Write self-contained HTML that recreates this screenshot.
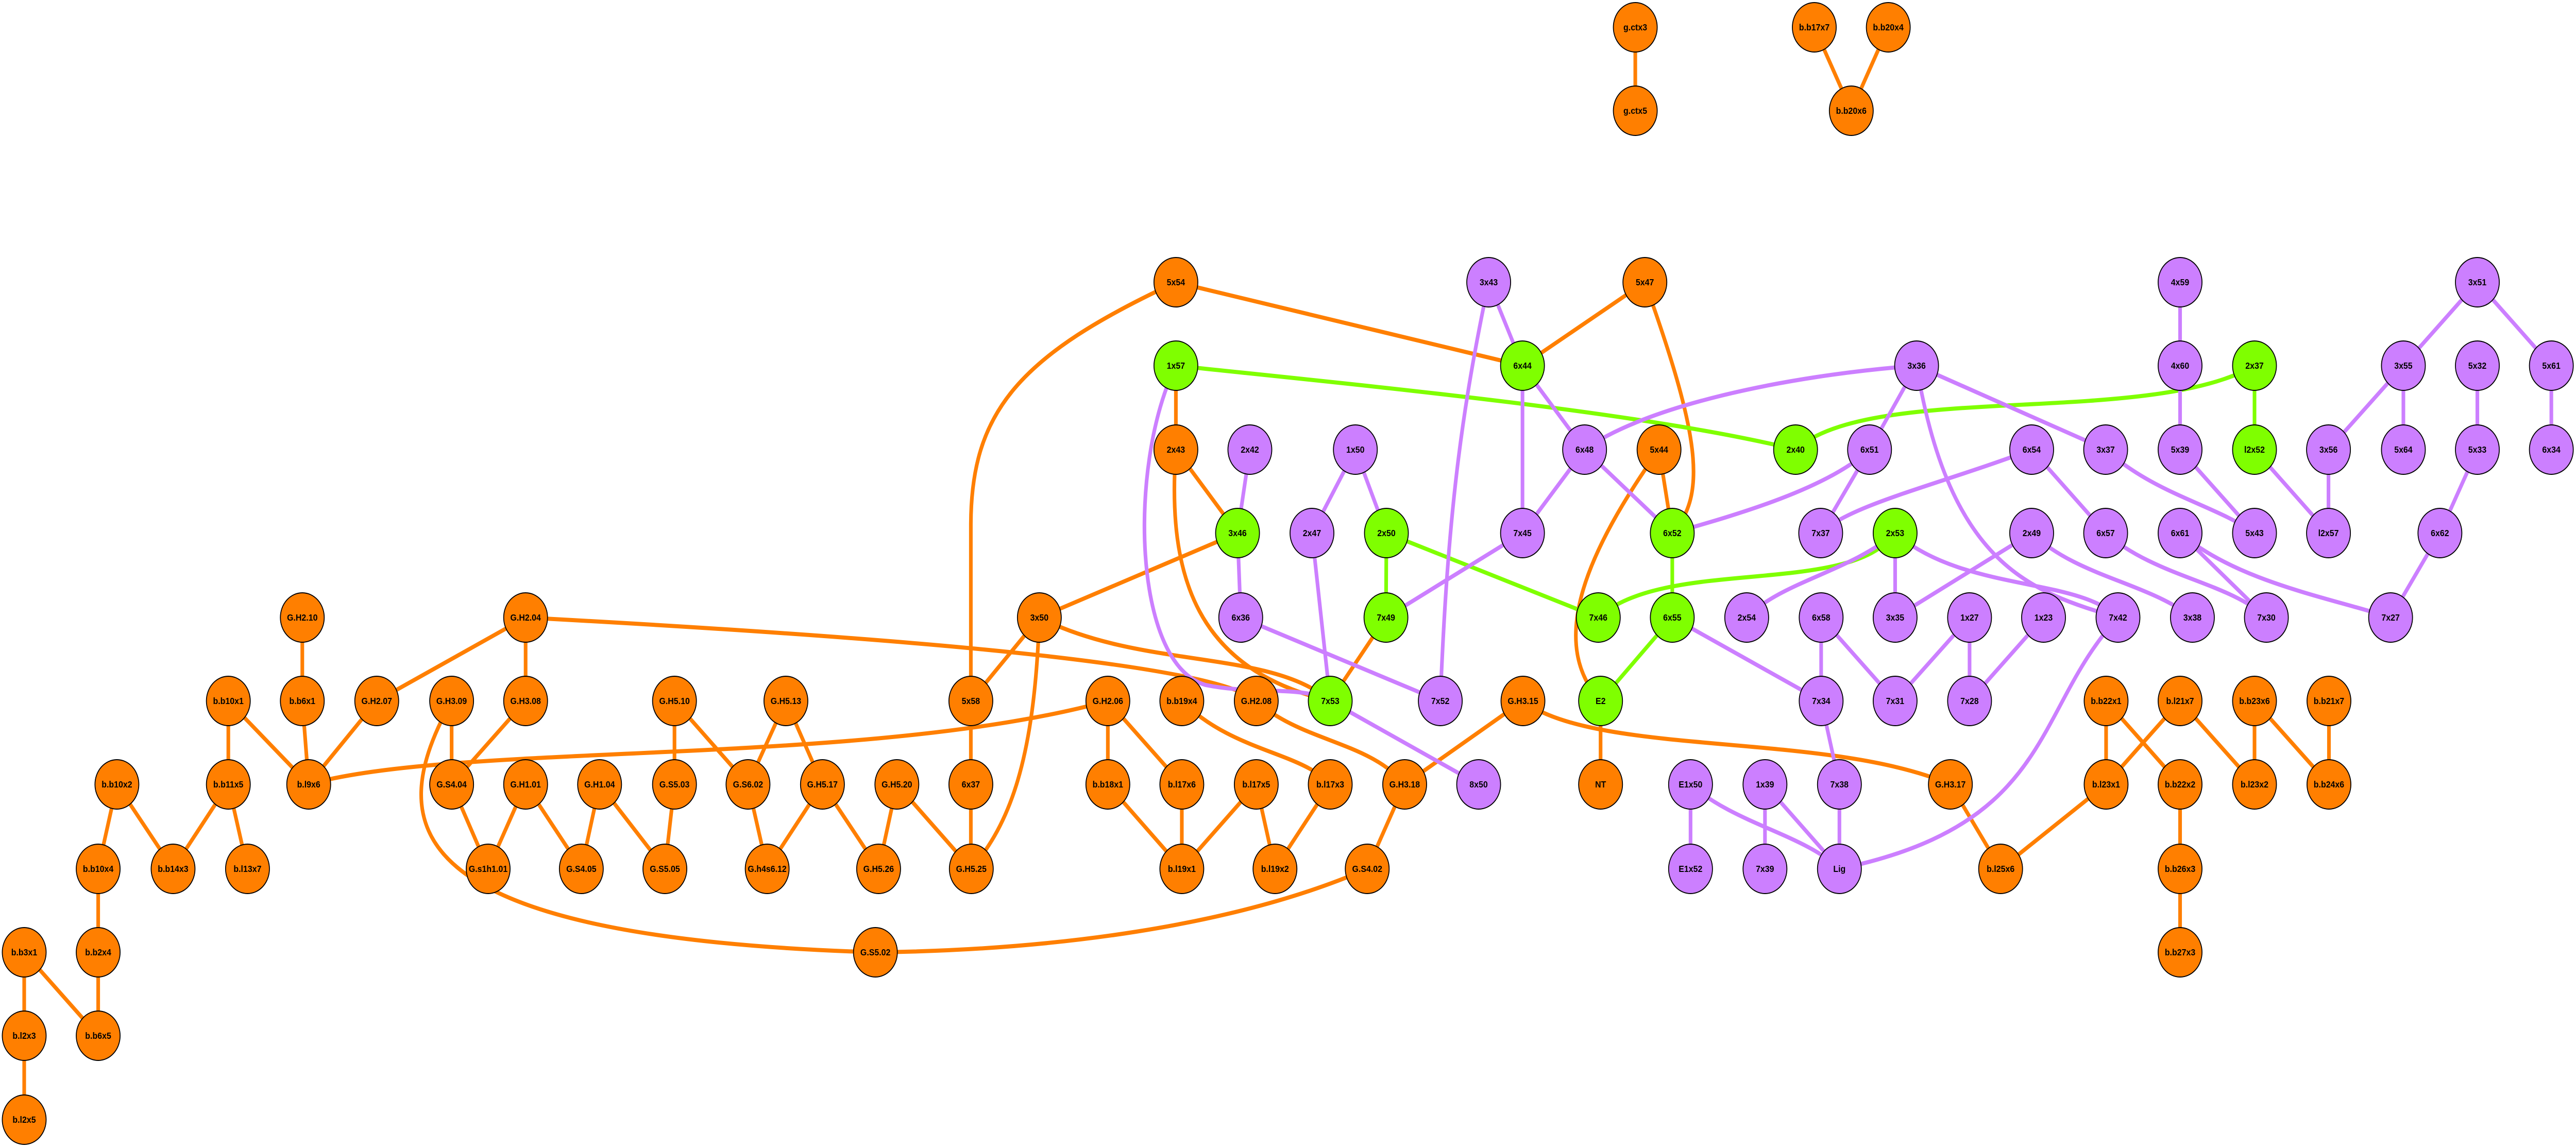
<!DOCTYPE html>
<html><head><meta charset="utf-8"><style>
html,body{margin:0;padding:0;background:#fff;width:100%;height:100%;overflow:hidden;}
svg{display:block;width:100vw;height:100vh;overflow:hidden}
.o{stroke:#ff7f00}.p{stroke:#cc7fff}.g{stroke:#7fff00}
path{fill:none;stroke-width:8}
circle{stroke:#000;stroke-width:2}
circle.O{fill:#ff7f00}circle.P{fill:#cc7fff}circle.G{fill:#7fff00}
text{font-family:"Liberation Sans",sans-serif;font-weight:bold;font-size:18px;text-anchor:middle;dominant-baseline:central;fill:#000}
</style></head><body>
<svg viewBox="0 0 5641 2229" preserveAspectRatio="none" xmlns="http://www.w3.org/2000/svg">
<g>
<path class="o" d="M3581,53L3581,215"/>
<path class="o" d="M3973,53L4054,215"/>
<path class="o" d="M4135,53L4054,215"/>
<path class="o" d="M662,1199L662,1361"/>
<path class="o" d="M500,1361L500,1523"/>
<path class="o" d="M500,1361L676,1523"/>
<path class="o" d="M662,1361L676,1523"/>
<path class="o" d="M825,1361L676,1523"/>
<path class="o" d="M1151,1199L825,1361"/>
<path class="o" d="M1151,1199L1151,1361"/>
<path class="o" d="M1151,1199C1800,1230 2650,1280 2751,1361"/>
<path class="o" d="M256,1523L215,1687"/>
<path class="o" d="M256,1523L379,1687"/>
<path class="o" d="M500,1523L379,1687"/>
<path class="o" d="M500,1523L542,1687"/>
<path class="o" d="M215,1687L215,1849"/>
<path class="o" d="M215,1849L215,2011"/>
<path class="o" d="M53,1849L53,2011"/>
<path class="o" d="M53,1849L215,2011"/>
<path class="o" d="M53,2011L53,2174"/>
<path class="o" d="M989,1361L989,1523"/>
<path class="o" d="M1151,1361L989,1523"/>
<path class="o" d="M989,1361C840,1600 860,1820 1917,1849"/>
<path class="o" d="M989,1523L1069,1687"/>
<path class="o" d="M1151,1523L1069,1687"/>
<path class="o" d="M1151,1523L1273,1687"/>
<path class="o" d="M1313,1523L1273,1687"/>
<path class="o" d="M1313,1523L1456,1687"/>
<path class="o" d="M676,1523C1000,1440 1900,1490 2426,1361"/>
<path class="o" d="M1477,1361L1477,1523"/>
<path class="o" d="M1477,1361L1638,1523"/>
<path class="o" d="M1477,1523L1456,1687"/>
<path class="o" d="M1721,1361L1638,1523"/>
<path class="o" d="M1721,1361L1801,1523"/>
<path class="o" d="M1638,1523L1680,1687"/>
<path class="o" d="M1801,1523L1680,1687"/>
<path class="o" d="M1801,1523L1924,1687"/>
<path class="o" d="M1964,1523L1924,1687"/>
<path class="o" d="M1964,1523L2127,1687"/>
<path class="o" d="M2126,1361L2126,1687"/>
<path class="o" d="M2276,1199L2126,1361"/>
<path class="o" d="M2276,1199C2265,1480 2210,1600 2127,1687"/>
<path class="o" d="M2276,1199L2710,1035"/>
<path class="o" d="M2276,1199C2500,1300 2780,1260 2913,1361"/>
<path class="o" d="M2575,548C2230,690 2126,800 2126,1020L2126,1361"/>
<path class="o" d="M2575,548L3334,710"/>
<path class="o" d="M2426,1361L2426,1523"/>
<path class="o" d="M2426,1361L2588,1523"/>
<path class="o" d="M2426,1523L2588,1687"/>
<path class="o" d="M2588,1523L2588,1687"/>
<path class="o" d="M2751,1523L2588,1687"/>
<path class="o" d="M2751,1523L2792,1687"/>
<path class="o" d="M2913,1523L2792,1687"/>
<path class="o" d="M2588,1361C2700,1460 2850,1460 2913,1523"/>
<path class="o" d="M2751,1361C2850,1440 3000,1440 3076,1523"/>
<path class="o" d="M3335,1361L3076,1523"/>
<path class="o" d="M3076,1523L2994,1687"/>
<path class="o" d="M2994,1687C2700,1800 2300,1845 1917,1849"/>
<path class="o" d="M3335,1361C3500,1470 4000,1420 4271,1523"/>
<path class="o" d="M4271,1523L4381,1687"/>
<path class="o" d="M4612,1523L4381,1687"/>
<path class="o" d="M2575,710L2575,873"/>
<path class="o" d="M2575,873L2710,1035"/>
<path class="o" d="M2575,873C2555,1120 2620,1300 2913,1361"/>
<path class="o" d="M3035,1199L2913,1361"/>
<path class="o" d="M3602,548L3334,710"/>
<path class="o" d="M3602,548C3720,840 3740,960 3662,1035"/>
<path class="o" d="M3633,873L3662,1035"/>
<path class="o" d="M3633,873C3450,1100 3400,1260 3505,1361"/>
<path class="o" d="M3505,1361L3505,1523"/>
<path class="o" d="M4612,1361L4612,1523"/>
<path class="o" d="M4612,1361L4774,1523"/>
<path class="o" d="M4774,1361L4612,1523"/>
<path class="o" d="M4774,1361L4937,1523"/>
<path class="o" d="M4937,1361L4937,1523"/>
<path class="o" d="M4937,1361L5100,1523"/>
<path class="o" d="M5100,1361L5100,1523"/>
<path class="o" d="M4774,1523L4774,1687"/>
<path class="o" d="M4774,1687L4774,1849"/>
</g>
<g>
<path class="g" d="M2575,710C3000,750 3600,800 3932,873"/>
<path class="g" d="M3932,873C4100,740 4700,830 4937,710"/>
<path class="g" d="M4937,710L4937,873"/>
<path class="g" d="M3036,1035L3035,1199"/>
<path class="g" d="M3036,1035L3500,1199"/>
<path class="g" d="M3662,1035L3662,1199"/>
<path class="g" d="M3662,1199L3505,1361"/>
<path class="g" d="M4150,1035C4050,1160 3650,1080 3500,1199"/>
</g>
<g>
<path class="p" d="M3260,548L3334,710"/>
<path class="p" d="M3260,548C3200,800 3170,1000 3154,1361"/>
<path class="p" d="M3334,710L3470,873"/>
<path class="p" d="M3334,710L3334,1035"/>
<path class="p" d="M3470,873L3334,1035"/>
<path class="p" d="M3470,873L3662,1035"/>
<path class="p" d="M4197,710C3900,730 3600,790 3470,873"/>
<path class="p" d="M4197,710L4094,873"/>
<path class="p" d="M4197,710C4400,790 4550,850 4612,873"/>
<path class="p" d="M4197,710C4270,1100 4450,1150 4638,1199"/>
<path class="p" d="M4094,873C4000,950 3800,1000 3662,1035"/>
<path class="p" d="M4094,873L3987,1035"/>
<path class="p" d="M4449,873C4250,940 4050,980 3987,1035"/>
<path class="p" d="M4449,873L4611,1035"/>
<path class="p" d="M4150,1035C4050,1110 3900,1130 3825,1199"/>
<path class="p" d="M4150,1035L4150,1199"/>
<path class="p" d="M4150,1035C4300,1150 4550,1120 4638,1199"/>
<path class="p" d="M4449,1035L4150,1199"/>
<path class="p" d="M4449,1035C4550,1120 4700,1130 4801,1199"/>
<path class="p" d="M4611,1035C4720,1120 4880,1130 4963,1199"/>
<path class="p" d="M4774,1035L4963,1199"/>
<path class="p" d="M4774,1035C4900,1130 5100,1160 5235,1199"/>
<path class="p" d="M4611,873C4720,960 4850,980 4937,1035"/>
<path class="p" d="M4774,873L4937,1035"/>
<path class="p" d="M4774,548L4774,873"/>
<path class="p" d="M4937,873L5099,1035"/>
<path class="p" d="M5099,873L5099,1035"/>
<path class="p" d="M5263,710L5099,873"/>
<path class="p" d="M5263,710L5263,873"/>
<path class="p" d="M5425,548L5263,710"/>
<path class="p" d="M5425,548L5587,710"/>
<path class="p" d="M5587,710L5587,873"/>
<path class="p" d="M5425,710L5425,873"/>
<path class="p" d="M5425,873L5343,1035"/>
<path class="p" d="M5343,1035L5235,1199"/>
<path class="p" d="M2968,873L2873,1035"/>
<path class="p" d="M2968,873L3036,1035"/>
<path class="p" d="M2737,873L2710,1035"/>
<path class="p" d="M2710,1035L2717,1199"/>
<path class="p" d="M2873,1035L2913,1361"/>
<path class="p" d="M3334,1035L3035,1199"/>
<path class="p" d="M2717,1199L3154,1361"/>
<path class="p" d="M2575,710C2470,900 2480,1290 2640,1330C2750,1350 2850,1330 2913,1361"/>
<path class="p" d="M2913,1361L3238,1523"/>
<path class="p" d="M3662,1199L3988,1361"/>
<path class="p" d="M3988,1199L3988,1361"/>
<path class="p" d="M3988,1199L4150,1361"/>
<path class="p" d="M4313,1199L4150,1361"/>
<path class="p" d="M4313,1199L4313,1361"/>
<path class="p" d="M4475,1199L4313,1361"/>
<path class="p" d="M3988,1361L4028,1523"/>
<path class="p" d="M4028,1523L4028,1687"/>
<path class="p" d="M3702,1523L3702,1687"/>
<path class="p" d="M3702,1523C3800,1600 3950,1620 4028,1687"/>
<path class="p" d="M3865,1523L3865,1687"/>
<path class="p" d="M3865,1523L4028,1687"/>
<path class="p" d="M4638,1199C4450,1380 4500,1600 4028,1687"/>
</g>
<g>
<circle class="O" cx="3581" cy="53" r="48"/><text x="3581" y="53">g.ctx3</text>
<circle class="O" cx="3581" cy="215" r="48"/><text x="3581" y="215">g.ctx5</text>
<circle class="O" cx="3973" cy="53" r="48"/><text x="3973" y="53">b.b17x7</text>
<circle class="O" cx="4135" cy="53" r="48"/><text x="4135" y="53">b.b20x4</text>
<circle class="O" cx="4054" cy="215" r="48"/><text x="4054" y="215">b.b20x6</text>
<circle class="O" cx="2575" cy="548" r="48"/><text x="2575" y="548">5x54</text>
<circle class="P" cx="3260" cy="548" r="48"/><text x="3260" y="548">3x43</text>
<circle class="O" cx="3602" cy="548" r="48"/><text x="3602" y="548">5x47</text>
<circle class="P" cx="4774" cy="548" r="48"/><text x="4774" y="548">4x59</text>
<circle class="P" cx="5425" cy="548" r="48"/><text x="5425" y="548">3x51</text>
<circle class="G" cx="2575" cy="710" r="48"/><text x="2575" y="710">1x57</text>
<circle class="G" cx="3334" cy="710" r="48"/><text x="3334" y="710">6x44</text>
<circle class="P" cx="4197" cy="710" r="48"/><text x="4197" y="710">3x36</text>
<circle class="P" cx="4774" cy="710" r="48"/><text x="4774" y="710">4x60</text>
<circle class="G" cx="4937" cy="710" r="48"/><text x="4937" y="710">2x37</text>
<circle class="P" cx="5263" cy="710" r="48"/><text x="5263" y="710">3x55</text>
<circle class="P" cx="5425" cy="710" r="48"/><text x="5425" y="710">5x32</text>
<circle class="P" cx="5587" cy="710" r="48"/><text x="5587" y="710">5x61</text>
<circle class="O" cx="2575" cy="873" r="48"/><text x="2575" y="873">2x43</text>
<circle class="P" cx="2737" cy="873" r="48"/><text x="2737" y="873">2x42</text>
<circle class="P" cx="2968" cy="873" r="48"/><text x="2968" y="873">1x50</text>
<circle class="P" cx="3470" cy="873" r="48"/><text x="3470" y="873">6x48</text>
<circle class="O" cx="3633" cy="873" r="48"/><text x="3633" y="873">5x44</text>
<circle class="G" cx="3932" cy="873" r="48"/><text x="3932" y="873">2x40</text>
<circle class="P" cx="4094" cy="873" r="48"/><text x="4094" y="873">6x51</text>
<circle class="P" cx="4449" cy="873" r="48"/><text x="4449" y="873">6x54</text>
<circle class="P" cx="4611" cy="873" r="48"/><text x="4611" y="873">3x37</text>
<circle class="P" cx="4774" cy="873" r="48"/><text x="4774" y="873">5x39</text>
<circle class="G" cx="4937" cy="873" r="48"/><text x="4937" y="873">l2x52</text>
<circle class="P" cx="5099" cy="873" r="48"/><text x="5099" y="873">3x56</text>
<circle class="P" cx="5263" cy="873" r="48"/><text x="5263" y="873">5x64</text>
<circle class="P" cx="5425" cy="873" r="48"/><text x="5425" y="873">5x33</text>
<circle class="P" cx="5587" cy="873" r="48"/><text x="5587" y="873">6x34</text>
<circle class="G" cx="2710" cy="1035" r="48"/><text x="2710" y="1035">3x46</text>
<circle class="P" cx="2873" cy="1035" r="48"/><text x="2873" y="1035">2x47</text>
<circle class="G" cx="3036" cy="1035" r="48"/><text x="3036" y="1035">2x50</text>
<circle class="P" cx="3334" cy="1035" r="48"/><text x="3334" y="1035">7x45</text>
<circle class="G" cx="3662" cy="1035" r="48"/><text x="3662" y="1035">6x52</text>
<circle class="P" cx="3987" cy="1035" r="48"/><text x="3987" y="1035">7x37</text>
<circle class="G" cx="4150" cy="1035" r="48"/><text x="4150" y="1035">2x53</text>
<circle class="P" cx="4449" cy="1035" r="48"/><text x="4449" y="1035">2x49</text>
<circle class="P" cx="4611" cy="1035" r="48"/><text x="4611" y="1035">6x57</text>
<circle class="P" cx="4774" cy="1035" r="48"/><text x="4774" y="1035">6x61</text>
<circle class="P" cx="4937" cy="1035" r="48"/><text x="4937" y="1035">5x43</text>
<circle class="P" cx="5099" cy="1035" r="48"/><text x="5099" y="1035">l2x57</text>
<circle class="P" cx="5343" cy="1035" r="48"/><text x="5343" y="1035">6x62</text>
<circle class="O" cx="662" cy="1199" r="48"/><text x="662" y="1199">G.H2.10</text>
<circle class="O" cx="1151" cy="1199" r="48"/><text x="1151" y="1199">G.H2.04</text>
<circle class="O" cx="2276" cy="1199" r="48"/><text x="2276" y="1199">3x50</text>
<circle class="P" cx="2717" cy="1199" r="48"/><text x="2717" y="1199">6x36</text>
<circle class="G" cx="3035" cy="1199" r="48"/><text x="3035" y="1199">7x49</text>
<circle class="G" cx="3500" cy="1199" r="48"/><text x="3500" y="1199">7x46</text>
<circle class="G" cx="3662" cy="1199" r="48"/><text x="3662" y="1199">6x55</text>
<circle class="P" cx="3825" cy="1199" r="48"/><text x="3825" y="1199">2x54</text>
<circle class="P" cx="3988" cy="1199" r="48"/><text x="3988" y="1199">6x58</text>
<circle class="P" cx="4150" cy="1199" r="48"/><text x="4150" y="1199">3x35</text>
<circle class="P" cx="4313" cy="1199" r="48"/><text x="4313" y="1199">1x27</text>
<circle class="P" cx="4475" cy="1199" r="48"/><text x="4475" y="1199">1x23</text>
<circle class="P" cx="4638" cy="1199" r="48"/><text x="4638" y="1199">7x42</text>
<circle class="P" cx="4801" cy="1199" r="48"/><text x="4801" y="1199">3x38</text>
<circle class="P" cx="4963" cy="1199" r="48"/><text x="4963" y="1199">7x30</text>
<circle class="P" cx="5235" cy="1199" r="48"/><text x="5235" y="1199">7x27</text>
<circle class="O" cx="500" cy="1361" r="48"/><text x="500" y="1361">b.b10x1</text>
<circle class="O" cx="662" cy="1361" r="48"/><text x="662" y="1361">b.b6x1</text>
<circle class="O" cx="825" cy="1361" r="48"/><text x="825" y="1361">G.H2.07</text>
<circle class="O" cx="989" cy="1361" r="48"/><text x="989" y="1361">G.H3.09</text>
<circle class="O" cx="1151" cy="1361" r="48"/><text x="1151" y="1361">G.H3.08</text>
<circle class="O" cx="1477" cy="1361" r="48"/><text x="1477" y="1361">G.H5.10</text>
<circle class="O" cx="1721" cy="1361" r="48"/><text x="1721" y="1361">G.H5.13</text>
<circle class="O" cx="2126" cy="1361" r="48"/><text x="2126" y="1361">5x58</text>
<circle class="O" cx="2426" cy="1361" r="48"/><text x="2426" y="1361">G.H2.06</text>
<circle class="O" cx="2588" cy="1361" r="48"/><text x="2588" y="1361">b.b19x4</text>
<circle class="O" cx="2751" cy="1361" r="48"/><text x="2751" y="1361">G.H2.08</text>
<circle class="G" cx="2913" cy="1361" r="48"/><text x="2913" y="1361">7x53</text>
<circle class="P" cx="3154" cy="1361" r="48"/><text x="3154" y="1361">7x52</text>
<circle class="O" cx="3335" cy="1361" r="48"/><text x="3335" y="1361">G.H3.15</text>
<circle class="G" cx="3505" cy="1361" r="48"/><text x="3505" y="1361">E2</text>
<circle class="P" cx="3988" cy="1361" r="48"/><text x="3988" y="1361">7x34</text>
<circle class="P" cx="4150" cy="1361" r="48"/><text x="4150" y="1361">7x31</text>
<circle class="P" cx="4313" cy="1361" r="48"/><text x="4313" y="1361">7x28</text>
<circle class="O" cx="4612" cy="1361" r="48"/><text x="4612" y="1361">b.b22x1</text>
<circle class="O" cx="4774" cy="1361" r="48"/><text x="4774" y="1361">b.l21x7</text>
<circle class="O" cx="4937" cy="1361" r="48"/><text x="4937" y="1361">b.b23x6</text>
<circle class="O" cx="5100" cy="1361" r="48"/><text x="5100" y="1361">b.b21x7</text>
<circle class="O" cx="256" cy="1523" r="48"/><text x="256" y="1523">b.b10x2</text>
<circle class="O" cx="500" cy="1523" r="48"/><text x="500" y="1523">b.b11x5</text>
<circle class="O" cx="676" cy="1523" r="48"/><text x="676" y="1523">b.l9x6</text>
<circle class="O" cx="989" cy="1523" r="48"/><text x="989" y="1523">G.S4.04</text>
<circle class="O" cx="1151" cy="1523" r="48"/><text x="1151" y="1523">G.H1.01</text>
<circle class="O" cx="1313" cy="1523" r="48"/><text x="1313" y="1523">G.H1.04</text>
<circle class="O" cx="1477" cy="1523" r="48"/><text x="1477" y="1523">G.S5.03</text>
<circle class="O" cx="1638" cy="1523" r="48"/><text x="1638" y="1523">G.S6.02</text>
<circle class="O" cx="1801" cy="1523" r="48"/><text x="1801" y="1523">G.H5.17</text>
<circle class="O" cx="1964" cy="1523" r="48"/><text x="1964" y="1523">G.H5.20</text>
<circle class="O" cx="2126" cy="1523" r="48"/><text x="2126" y="1523">6x37</text>
<circle class="O" cx="2426" cy="1523" r="48"/><text x="2426" y="1523">b.b18x1</text>
<circle class="O" cx="2588" cy="1523" r="48"/><text x="2588" y="1523">b.l17x6</text>
<circle class="O" cx="2751" cy="1523" r="48"/><text x="2751" y="1523">b.l17x5</text>
<circle class="O" cx="2913" cy="1523" r="48"/><text x="2913" y="1523">b.l17x3</text>
<circle class="O" cx="3076" cy="1523" r="48"/><text x="3076" y="1523">G.H3.18</text>
<circle class="P" cx="3238" cy="1523" r="48"/><text x="3238" y="1523">8x50</text>
<circle class="O" cx="3505" cy="1523" r="48"/><text x="3505" y="1523">NT</text>
<circle class="P" cx="3702" cy="1523" r="48"/><text x="3702" y="1523">E1x50</text>
<circle class="P" cx="3865" cy="1523" r="48"/><text x="3865" y="1523">1x39</text>
<circle class="P" cx="4028" cy="1523" r="48"/><text x="4028" y="1523">7x38</text>
<circle class="O" cx="4271" cy="1523" r="48"/><text x="4271" y="1523">G.H3.17</text>
<circle class="O" cx="4612" cy="1523" r="48"/><text x="4612" y="1523">b.l23x1</text>
<circle class="O" cx="4774" cy="1523" r="48"/><text x="4774" y="1523">b.b22x2</text>
<circle class="O" cx="4937" cy="1523" r="48"/><text x="4937" y="1523">b.l23x2</text>
<circle class="O" cx="5100" cy="1523" r="48"/><text x="5100" y="1523">b.b24x6</text>
<circle class="O" cx="215" cy="1687" r="48"/><text x="215" y="1687">b.b10x4</text>
<circle class="O" cx="379" cy="1687" r="48"/><text x="379" y="1687">b.b14x3</text>
<circle class="O" cx="542" cy="1687" r="48"/><text x="542" y="1687">b.l13x7</text>
<circle class="O" cx="1069" cy="1687" r="48"/><text x="1069" y="1687">G.s1h1.01</text>
<circle class="O" cx="1273" cy="1687" r="48"/><text x="1273" y="1687">G.S4.05</text>
<circle class="O" cx="1456" cy="1687" r="48"/><text x="1456" y="1687">G.S5.05</text>
<circle class="O" cx="1680" cy="1687" r="48"/><text x="1680" y="1687">G.h4s6.12</text>
<circle class="O" cx="1924" cy="1687" r="48"/><text x="1924" y="1687">G.H5.26</text>
<circle class="O" cx="2127" cy="1687" r="48"/><text x="2127" y="1687">G.H5.25</text>
<circle class="O" cx="2588" cy="1687" r="48"/><text x="2588" y="1687">b.l19x1</text>
<circle class="O" cx="2792" cy="1687" r="48"/><text x="2792" y="1687">b.l19x2</text>
<circle class="O" cx="2994" cy="1687" r="48"/><text x="2994" y="1687">G.S4.02</text>
<circle class="P" cx="3702" cy="1687" r="48"/><text x="3702" y="1687">E1x52</text>
<circle class="P" cx="3865" cy="1687" r="48"/><text x="3865" y="1687">7x39</text>
<circle class="P" cx="4028" cy="1687" r="48"/><text x="4028" y="1687">Lig</text>
<circle class="O" cx="4381" cy="1687" r="48"/><text x="4381" y="1687">b.l25x6</text>
<circle class="O" cx="4774" cy="1687" r="48"/><text x="4774" y="1687">b.b26x3</text>
<circle class="O" cx="53" cy="1849" r="48"/><text x="53" y="1849">b.b3x1</text>
<circle class="O" cx="215" cy="1849" r="48"/><text x="215" y="1849">b.b2x4</text>
<circle class="O" cx="1917" cy="1849" r="48"/><text x="1917" y="1849">G.S5.02</text>
<circle class="O" cx="4774" cy="1849" r="48"/><text x="4774" y="1849">b.b27x3</text>
<circle class="O" cx="53" cy="2011" r="48"/><text x="53" y="2011">b.l2x3</text>
<circle class="O" cx="215" cy="2011" r="48"/><text x="215" y="2011">b.b6x5</text>
<circle class="O" cx="53" cy="2174" r="48"/><text x="53" y="2174">b.l2x5</text>
</g>
</svg>
</body></html>
